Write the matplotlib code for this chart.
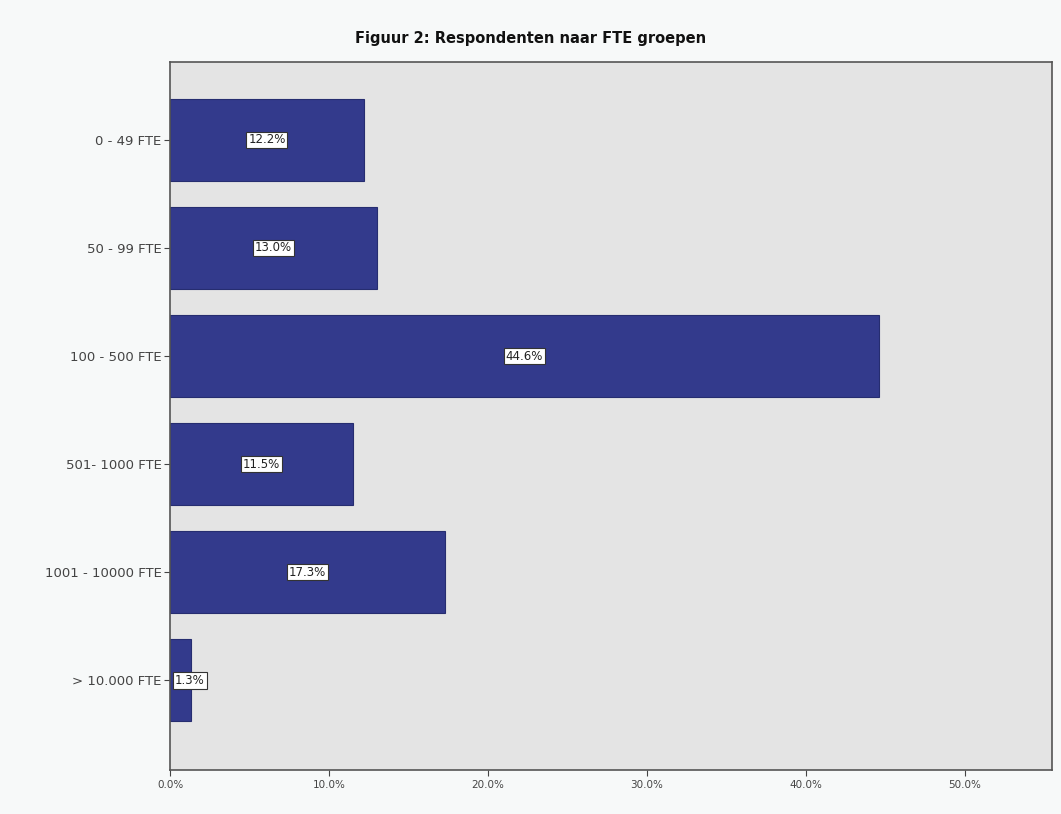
import matplotlib.pyplot as plt
from matplotlib.ticker import FuncFormatter

categories = ['0 - 49 FTE', '50 - 99 FTE', '100 - 500 FTE', '501- 1000 FTE',
              '1001 - 10000 FTE', '> 10.000 FTE']
percent = [12.2, 13.0, 44.6, 11.5, 17.3, 1.3]
xticks = [0, 10, 20, 30, 40, 50]

fig = plt.figure(figsize=(10.61, 8.14), dpi=100)
fig.patch.set_facecolor('#f7f9f9')
ax = fig.add_axes([170 / 1061, 1 - 770 / 814, (1052 - 170) / 1061, (770 - 62) / 814])
ax.set_facecolor('#e4e4e4')

ypos = list(range(len(categories)))
ax.barh(ypos, percent, height=0.76, color='#333a8c', edgecolor='#262d70', linewidth=0.8)

for y, v in zip(ypos, percent):
    ax.text(max(v / 2, 1.25), y, f'{v:.1f}%', ha='center', va='center', fontsize=8.5,
            color='#222222',
            bbox=dict(boxstyle='square,pad=0.15', facecolor='white', edgecolor='#333333', linewidth=0.8))

ax.set_yticks(ypos)
ax.set_yticklabels(categories, fontsize=9.5, color='#444444')
ax.set_ylim(5.83, -0.72)
ax.set_xlim(0, 55.5)
ax.set_xticks(xticks)
ax.xaxis.set_major_formatter(FuncFormatter(lambda v, p: f'{v:.1f}%'))
ax.tick_params(axis='x', labelsize=7.5, colors='#444444', length=4)
ax.tick_params(axis='y', length=4, pad=2, colors='#444444')

for s in ax.spines.values():
    s.set_color('#555555')
    s.set_linewidth(1.2)

fig.text(0.5, 1 - 38 / 814, 'Figuur 2: Respondenten naar FTE groepen', ha='center', va='center',
         fontsize=10.5, fontweight='bold', color='#111111')

plt.savefig('out.png', dpi=100, facecolor=fig.get_facecolor())
